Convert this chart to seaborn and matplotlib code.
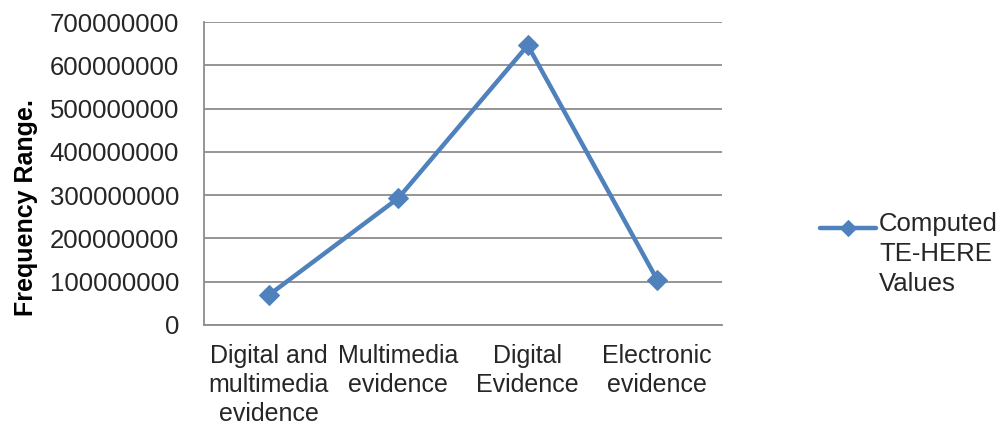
import matplotlib
matplotlib.use("Agg")
import matplotlib.pyplot as plt
import matplotlib.transforms as mtransforms
from matplotlib.lines import Line2D
import seaborn as sns
import pandas as pd
from matplotlib.ticker import FuncFormatter

categories = ["Digital and\nmultimedia\nevidence", "Multimedia\nevidence", "Digital\nEvidence", "Electronic\nevidence"]
values = [69000000, 293000000, 646000000, 104000000]
series_name = "Computed\nTE-HERE\nValues"
yticks = [0, 100000000, 200000000, 300000000, 400000000, 500000000, 600000000, 700000000]

sns.set_theme(style="white")
plt.rcParams['font.family'] = ['Liberation Sans', 'DejaVu Sans']

df = pd.DataFrame({"cat": categories, "val": values, "series": series_name})

fig = plt.figure(figsize=(10.02, 4.25), dpi=100)
ax = fig.add_axes([0.2036, 0.2353, 0.5170, 0.7129])

color = "#4F81BD"
text_color = "#262626"
sns.lineplot(data=df, x="cat", y="val", hue="series", palette=[color], sort=False,
             marker="D", markersize=10, markeredgecolor=color, linewidth=3.2, ax=ax)

ax.set_xlim(-0.5, 3.5)
ax.set_ylim(0, 700000000)
ax.set_yticks(yticks)
ax.yaxis.set_major_formatter(FuncFormatter(lambda v, p: f"{int(v)}"))
ax.grid(axis="y", color="#8c8c8c", linewidth=1.3)
ax.set_axisbelow(True)
for s in ["top", "right"]:
    ax.spines[s].set_visible(False)
for s in ["left", "bottom"]:
    ax.spines[s].set_color("#8c8c8c")
    ax.spines[s].set_linewidth(1.3)

ax.tick_params(axis="y", labelsize=18.5, pad=18, length=0, colors=text_color)
ax.tick_params(axis="x", labelsize=18, pad=14, length=0, colors=text_color)
for lab in ax.get_xticklabels():
    lab.set_linespacing(1.24)

ax.set_xlabel("")
ax.set_ylabel("Frequency Range.", fontsize=18, fontweight="bold", color="black")
ax.yaxis.set_label_coords(-0.3205, 0.386)

leg = ax.legend(loc="upper left", bbox_to_anchor=(0.818, 1 - 212 / 425),
                bbox_transform=fig.transFigure, frameon=False, borderpad=0, borderaxespad=0,
                fontsize=18.5, handlelength=2.2, handletextpad=0.12, markerscale=0.85)
for t in leg.get_texts():
    t.set_linespacing(1.32)
    t.set_color(text_color)

# align the legend handle with the first line of the label, as in the reference
shift = mtransforms.ScaledTranslation(0, 27 / 100, fig.dpi_scale_trans)
for ln in leg.findobj(Line2D):
    ln.set_transform(ln.get_transform() + shift)

fig.savefig("out.png", dpi=100)
